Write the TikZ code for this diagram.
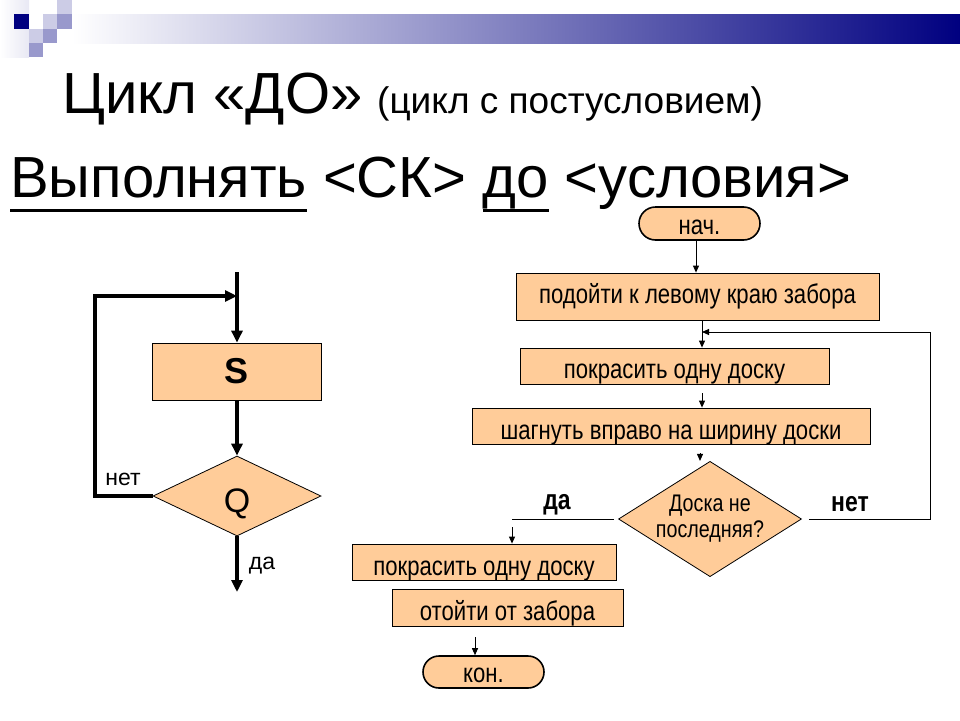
\documentclass[tikz,border=0pt]{standalone}
\usepackage{fontspec}
\setmainfont{Liberation Sans}
\newfontfamily\narrowfont[FakeStretch=0.82]{Liberation Sans}
\usetikzlibrary{arrows.meta,positioning,shapes.geometric,shapes.misc}
\definecolor{peach}{RGB}{255,204,153}
\definecolor{navyblue}{RGB}{0,0,128}
\definecolor{lightlav}{RGB}{204,204,230}
\definecolor{midlav}{RGB}{153,153,204}
\newcommand\ulword[1]{\setbox0=\hbox{#1}\rlap{\rule[-15pt]{\wd0}{3pt}}\box0\relax}
\tikzset{
  >=Stealth,
  every node/.append style={inner sep=0pt},
}
\tikzset{
  box/.style={draw, fill=peach, line width=0.8pt, text height=24pt, text depth=0pt,
    font=\narrowfont\fontsize{27}{30}\selectfont},
  term/.style={rounded rectangle, draw, fill=peach, line width=1.6pt,
    text height=21pt, text depth=0pt,
    font=\narrowfont\fontsize{27}{30}\selectfont},
  thinarrow/.style={-{Triangle[length=7pt,width=6pt]}, line width=0.9pt},
  thickarrow/.style={-{Triangle[length=12pt,width=11pt]}, line width=3.6pt}
}

\begin{document}
\begin{tikzpicture}[
  x=1pt, y=-1pt,
  title/.style={anchor=base west, font=\fontsize{58}{64}\selectfont},
  subtitle/.style={anchor=base west, font=\fontsize{37}{40}\selectfont},
  sbox/.style={draw, fill=peach, line width=0.8pt,
    minimum width=169pt, minimum height=57pt,
    font=\fontsize{36}{40}\selectfont\bfseries},
  cond/.style={diamond, draw, fill=peach, line width=0.8pt, align=center},
  lbl/.style={font=\fontsize{23}{26}\selectfont},
  blbl/.style={font=\narrowfont\fontsize{28}{30}\selectfont\bfseries}
]
\useasboundingbox (0,0) rectangle (960,720);

% --- header bar ---
\shade[left color=white, right color=lightlav!45] (0,0) rectangle (29,57);
\shade[left color=white, right color=navyblue] (72,14) rectangle (960,43);
\fill[navyblue] (14,14) rectangle (29,29);
\fill[lightlav] (57,0) rectangle (72,14);
\fill[lightlav] (43,14) rectangle (57,29);
\fill[midlav] (57,14) rectangle (72,29);
\fill[lightlav] (29,29) rectangle (43,43);
\fill[midlav] (43,29) rectangle (57,43);
\fill[midlav] (29,43) rectangle (43,57);

% --- titles ---
\node[title] (t1) at (62,113) {Цикл «ДО»};
\node[subtitle] (t2) at (377,113) {(цикл с постусловием)};
\node[title] (t3) at (10,197) {\ulword{Выполнять} <СК> \ulword{до} <условия>};

% --- general scheme (left) ---
\coordinate (top) at (237,272);
\coordinate (lc) at (95,296);
\coordinate (lin) at (237,296);
\node[sbox] (s) at (237,371.5) {S};
\node[cond, minimum width=168pt, minimum height=80pt, text height=32pt, text depth=0pt,
  font=\fontsize{34}{36}\selectfont] (q) at (237,496) {Q};
\coordinate (out) at (237,592);

\draw[thickarrow] (top) -- (s.north);
\draw[thickarrow] (s.south) -- (q.north);
\draw[thickarrow] (q.south) -- (out);
\draw[thickarrow] (q.west) -| (lc) -- (lin);

\node[lbl] (no1) at (123,479) {нет};
\node[lbl] (yes1) at (262,566) {да};

% --- fence example (right) ---
\node[term, minimum width=121pt, minimum height=33pt] (st) at (699.5,223.5) {нач.};
\node[box, minimum width=363pt, minimum height=47pt, text height=13pt] (b1) at (697.5,296.5) {подойти к левому краю забора};
\node[box, minimum width=309pt, minimum height=36pt] (b2) at (674.5,366) {покрасить одну доску};
\node[box, minimum width=398pt, minimum height=36pt, text height=26pt] (b3) at (671,426) {шагнуть вправо на ширину доски};
\node[cond, minimum width=183pt, minimum height=99pt, inner sep=-10pt,
  font=\narrowfont\fontsize{24}{26}\selectfont] (dq) at (710,519) {Доска не\\последняя?};
\node[box, minimum width=264pt, minimum height=36pt, text height=27pt] (b4) at (484,562) {покрасить одну доску};
\node[box, minimum width=231pt, minimum height=37pt, text height=25pt] (b5) at (507.5,607.5) {отойти от забора};
\node[term, minimum width=121pt, minimum height=32pt, text height=20pt] (en) at (483.5,672) {кон.};

\coordinate (j) at (702,332);
\coordinate (rc) at (930,332);
\coordinate (yes) at (512,519);

\draw[thinarrow] (st.south -| 696,0) -- (b1.north -| 696,0);
\draw[thinarrow] (b1.south -| j) -- (b2.north -| j);
\draw[thinarrow] ([yshift=-9pt]b2.south -| j) -- (b3.north -| j);
\draw[thinarrow] ([yshift=-9pt]b3.south -| 700,0) -- (dq.north -| 700,0);
\draw[thinarrow] ([xshift=7pt]dq.east) -| (rc) -- (j);
\draw[line width=0.9pt] ([xshift=-4pt]dq.west) -- (yes);
\draw[thinarrow] ([yshift=-8pt]yes) -- (yes |- b4.north);
\draw[thinarrow] ([yshift=-11pt]b5.south -| 475,0) -- (en.north -| 475,0);

\node[blbl] (yes2) at (557,505) {да};
\node[blbl] (no2) at (850,504) {нет};

\end{tikzpicture}
\end{document}
